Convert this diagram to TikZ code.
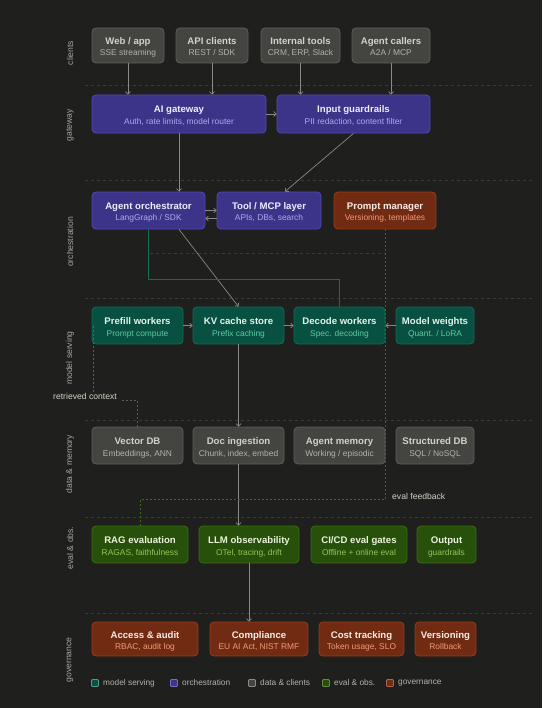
\documentclass[tikz,border=0pt]{standalone}
\usepackage{fontspec}
\setmainfont{Liberation Sans}
\usetikzlibrary{arrows.meta,calc}
\definecolor{bgc}{HTML}{1F1F1E}
\definecolor{grybg}{HTML}{444441}\definecolor{grybd}{HTML}{5F5E5A}\definecolor{grytt}{HTML}{D3D1C7}\definecolor{gryst}{HTML}{B4B2A9}
\definecolor{purbg}{HTML}{3C3489}\definecolor{purbd}{HTML}{534AB7}\definecolor{purtt}{HTML}{EEEDFE}\definecolor{purst}{HTML}{AFA9EC}
\definecolor{tealbg}{HTML}{085041}\definecolor{tealbd}{HTML}{0F6E56}\definecolor{tealtt}{HTML}{E1F5EE}\definecolor{tealst}{HTML}{5DCAA5}
\definecolor{grnbg}{HTML}{27500A}\definecolor{grnbd}{HTML}{3B6D11}\definecolor{grntt}{HTML}{EAF3DE}\definecolor{grnst}{HTML}{97C459}
\definecolor{redbg}{HTML}{712B13}\definecolor{redbd}{HTML}{993C1D}\definecolor{redtt}{HTML}{FAECE7}\definecolor{redst}{HTML}{F0997B}
\definecolor{connc}{HTML}{8A8983}
\definecolor{sepc}{HTML}{3C3C3A}
\definecolor{layc}{HTML}{A8A69E}
\definecolor{lgc}{HTML}{B4B2A9}
\tikzset{
  box/.style={rounded corners=4pt, line width=0.8pt, inner sep=0pt},
  ttl/.style={font=\fontsize{9.6}{11}\selectfont\bfseries, inner sep=0pt},
  subt/.style={font=\fontsize{8.4}{10}\selectfont, inner sep=0pt},
  conn/.style={draw=connc, line width=0.7pt, -{Straight Barb[length=2.5pt,width=5pt]}},
  sepline/.style={draw=sepc, line width=0.6pt, dash pattern=on 3pt off 3pt},
  greenline/.style={draw=tealbd, line width=0.8pt},
  fbline/.style={draw=grnbd, line width=0.7pt, dash pattern=on 2pt off 2pt},
  rcline/.style={draw=grybd, line width=0.7pt, dash pattern=on 2pt off 2pt},
  laylab/.style={font=\fontsize{8.6}{10}\selectfont, text=layc, rotate=90, inner sep=0pt},
  note/.style={font=\fontsize{8.6}{10}\selectfont, text=grytt, inner sep=1pt},
  lgtext/.style={font=\fontsize{8.3}{10}\selectfont, text=lgc, inner sep=0pt, anchor=west},
  lgsq/.style={line width=0.8pt, rounded corners=1pt, minimum size=7pt, inner sep=0pt},
}
\newcommand\mkbox[8]{%
  \node[box,draw=#6bd,fill=#6bg,minimum width={(#4-#2)*1pt},minimum height={(#5-#3)*1pt}] (#1) at ({(#2+#4)/2},{(#3+#5)/2}) {};
  \node[ttl,text=#6tt,anchor=base] (#1-t) at ([yshift=1pt]#1.center) {#7};
  \node[subt,text=#6st,anchor=base] (#1-s) at ([yshift=-10.5pt]#1.center) {#8};
}
\begin{document}
\begin{tikzpicture}[x=1pt,y=-1pt]
\fill[bgc] (0,0) rectangle (542,708);
\path[use as bounding box] (0,0) rectangle (542,708);
% separators
\foreach \yy in {85,180,298,420,517,613} \draw[sepline] (85,\yy) -- (535,\yy);
\draw[sepline] (150,253) -- (385,253);
% layer labels
\node[laylab] (l1) at (70,53) {clients};
\node[laylab] (l2) at (70,125) {gateway};
\node[laylab] (l3) at (70,242) {orchestration};
\node[laylab] (l4) at (70,358) {model serving};
\node[laylab] (l5) at (70,464) {data \& memory};
\node[laylab] (l6) at (70,548) {eval \& obs.};
\node[laylab] (l7) at (70,660) {governance};
% boxes
\mkbox{web}{92}{28}{164}{63}{gry}{Web / app}{SSE streaming}
\mkbox{api}{176}{28}{248}{63}{gry}{API clients}{REST / SDK}
\mkbox{int}{261}{28}{340}{63}{gry}{Internal tools}{CRM, ERP, Slack}
\mkbox{agc}{352}{28}{430}{63}{gry}{Agent callers}{A2A / MCP}
\mkbox{gw}{92}{95}{266}{133}{pur}{AI gateway}{Auth, rate limits, model router}
\mkbox{ig}{277}{95}{430}{133}{pur}{Input guardrails}{PII redaction, content filter}
\mkbox{orch}{92}{192}{205}{229}{pur}{Agent orchestrator}{LangGraph / SDK}
\mkbox{tool}{217}{192}{321}{229}{pur}{Tool / MCP layer}{APIs, DBs, search}
\mkbox{pm}{334}{192}{436}{229}{red}{Prompt manager}{Versioning, templates}
\mkbox{pre}{92}{307}{183}{344}{teal}{Prefill workers}{Prompt compute}
\mkbox{kv}{193}{307}{284}{344}{teal}{KV cache store}{Prefix caching}
\mkbox{dec}{294}{307}{385}{344}{teal}{Decode workers}{Spec. decoding}
\mkbox{mw}{396}{307}{474}{344}{teal}{Model weights}{Quant. / LoRA}
\mkbox{vdb}{92}{427}{183}{464}{gry}{Vector DB}{Embeddings, ANN}
\mkbox{doc}{193}{427}{284}{464}{gry}{Doc ingestion}{Chunk, index, embed}
\mkbox{amem}{294}{427}{385}{464}{gry}{Agent memory}{Working / episodic}
\mkbox{sdb}{396}{427}{474}{464}{gry}{Structured DB}{SQL / NoSQL}
\mkbox{rag}{92}{526}{188}{563}{grn}{RAG evaluation}{RAGAS, faithfulness}
\mkbox{llm}{199}{526}{299}{563}{grn}{LLM observability}{OTel, tracing, drift}
\mkbox{cicd}{311}{526}{407}{563}{grn}{CI/CD eval gates}{Offline + online eval}
\mkbox{out}{417}{526}{476}{563}{grn}{Output}{guardrails}
\mkbox{acc}{92}{622}{198}{656}{red}{Access \& audit}{RBAC, audit log}
\mkbox{comp}{210}{622}{308}{656}{red}{Compliance}{EU AI Act, NIST RMF}
\mkbox{cost}{319}{622}{404}{656}{red}{Cost tracking}{Token usage, SLO}
\mkbox{ver}{415}{622}{476}{656}{red}{Versioning}{Rollback}
% connectors
\draw[conn] (web.south) -- (web.south |- gw.north);
\draw[conn] (api.south) -- (api.south |- gw.north);
\draw[conn] (int.south) -- (int.south |- ig.north);
\draw[conn] (agc.south) -- (agc.south |- ig.north);
\draw[conn] (gw.east) -- (ig.west);
\draw[conn] (gw.south) -- (gw.south |- orch.north);
\draw[conn] (ig.south) -- ([xshift=16pt]tool.north);
\draw[conn] (orch.east) -- (orch.east -| tool.west);
\draw[conn] ([yshift=-8pt]tool.west) -- ([yshift=-8pt]tool.west -| orch.east);
\draw[conn] (orch.south -| gw.south) -- (kv.north);
\draw[greenline] (orch.south) |- ($(dec.north)+(0,-27)$) -- (dec.north);
\draw[conn] (pre.east) -- (kv.west);
\draw[conn] (kv.east) -- (dec.west);
\draw[conn] (mw.west) -- (dec.east);
\draw[conn] (kv.south) -- (doc.north);
\draw[conn] (doc.south) -- (doc.south |- llm.north);
\draw[conn] (llm.south) -- (llm.south |- comp.north);
% eval feedback
\draw[fbline] (rag.north) -- ++(0,-26) -| (pm.south);
\node[note, anchor=west] (ef) at (391,496) {eval feedback};
% retrieved context
\node[note] (rc) at (85,396) {retrieved context};
\draw[rcline] (vdb.north) |- ([xshift=3pt,yshift=-4pt]rc.east);
\draw[rcline] ([xshift=2pt]pre.west) -- ([xshift=2pt]pre.west |- rc.north);
% legend
\node[lgsq, draw=tealbd!70!white, fill=tealbg] (q1) at (95,683) {};
\node[lgtext] (t1) at (103,683) {model serving};
\node[lgsq, draw=purbd!80!white, fill=purbg] (q2) at (174,683) {};
\node[lgtext] (t2) at (182,683) {orchestration};
\node[lgsq, draw=connc, fill=grybg] (q3) at (252,683) {};
\node[lgtext] (t3) at (260,683) {data \& clients};
\node[lgsq, draw=grnbd!80!white, fill=grnbg] (q4) at (326,683) {};
\node[lgtext] (t4) at (334,683) {eval \& obs.};
\node[lgsq, draw=redbd!80!white, fill=redbg] (q5) at (390,683) {};
\node[lgtext] (t5) at (398,683) {governance};
\end{tikzpicture}
\end{document}
